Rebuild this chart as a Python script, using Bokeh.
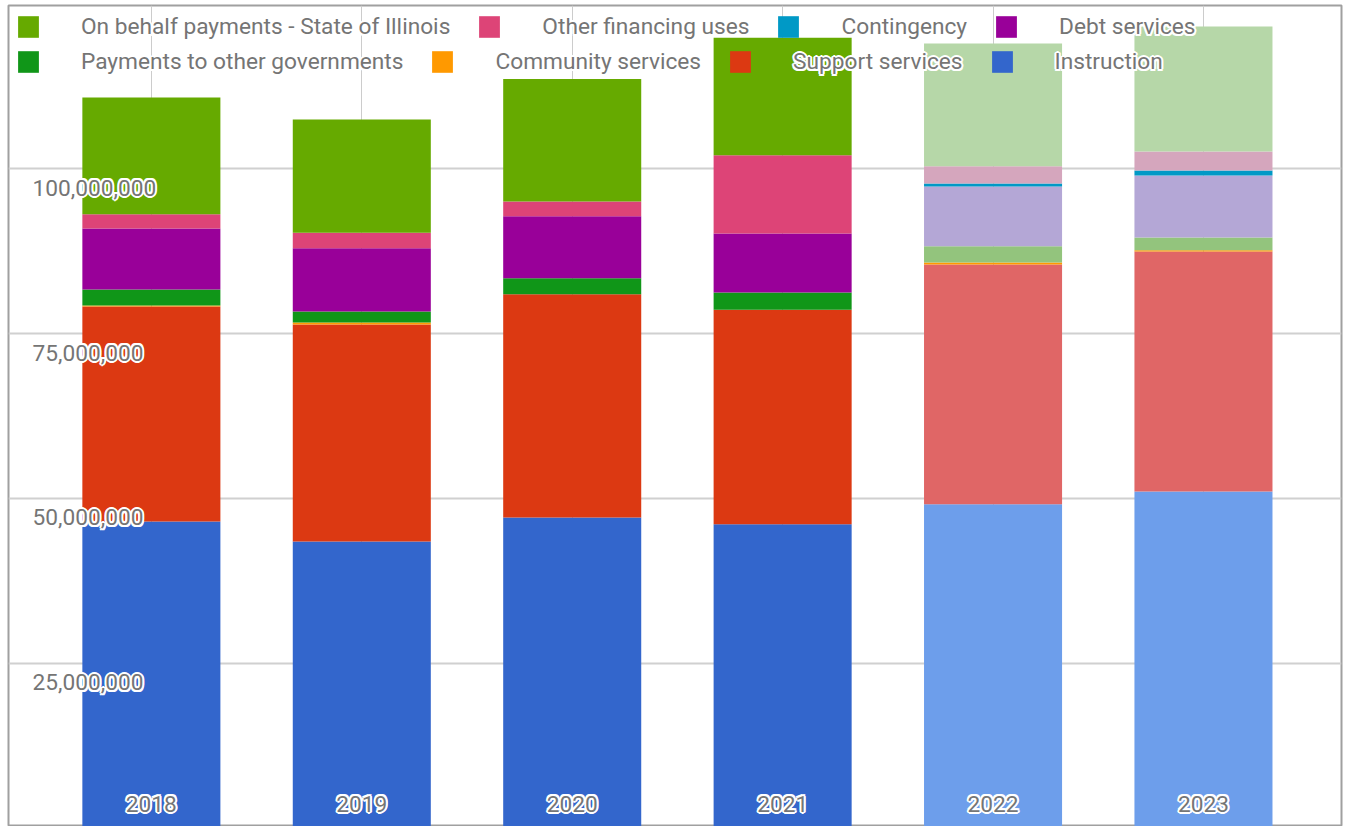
from bokeh.plotting import figure
from bokeh.models import (ColumnDataSource, Range1d, Grid, FixedTicker, LabelSet,
                          Legend, LegendItem)
from bokeh.core.properties import value
from bokeh.transform import stack
from bokeh.embed import file_html
from bokeh.resources import INLINE

# ---------------- data ----------------
years = ["2018", "2019", "2020", "2021", "2022", "2023"]
instruction = [46.52e6, 43.48e6, 47.12e6, 46.11e6, 49.14e6, 51.06e6]
support_services = [32.58e6, 32.88e6, 33.83e6, 32.48e6, 36.32e6, 36.36e6]
community_services = [0.15e6, 0.30e6, 0.0, 0.0, 0.30e6, 0.20e6]
payments_other_govts = [2.42e6, 1.67e6, 2.42e6, 2.62e6, 2.47e6, 1.92e6]
debt_services = [9.24e6, 9.59e6, 9.39e6, 8.94e6, 9.05e6, 9.39e6]
contingency = [0.0, 0.0, 0.0, 0.0, 0.45e6, 0.76e6]
other_financing_uses = [2.17e6, 2.33e6, 2.23e6, 11.86e6, 2.62e6, 2.88e6]
on_behalf_payments = [17.68e6, 17.17e6, 18.59e6, 17.79e6, 18.59e6, 18.94e6]

y_ticks = [25e6, 50e6, 75e6, 100e6]
y_tick_labels = ["25,000,000", "50,000,000", "75,000,000", "100,000,000"]

# year is budget (projected) -> lighter colours
projected = [False, False, False, False, True, True]

series = [
    ("instruction", "Instruction", instruction, "#3366cc", "#6d9eeb"),
    ("support", "Support services", support_services, "#dc3912", "#e06666"),
    ("community", "Community services", community_services, "#ff9900", "#ff9900"),
    ("paygov", "Payments to other governments", payments_other_govts, "#109618", "#93c47d"),
    ("debt", "Debt services", debt_services, "#990099", "#b4a7d6"),
    ("contingency", "Contingency", contingency, "#0099c6", "#0099c6"),
    ("otherfin", "Other financing uses", other_financing_uses, "#dd4477", "#d5a6bd"),
    ("onbehalf", "On behalf payments - State of Illinois", on_behalf_payments, "#66aa00", "#b6d7a8"),
]

xs = list(range(len(years)))
data = {"x": xs}
for key, label, vals, dark, light in series:
    data[key] = vals
    data["c_" + key] = [light if pr else dark for pr in projected]
source = ColumnDataSource(data)

TEXT_COLOR = "#757575"
FONT = "Roboto"
FSIZE = "22.7px"
HALO = [(-2, 0), (2, 0), (0, -2), (0, 2), (-1.5, -1.5), (1.5, -1.5), (-1.5, 1.5), (1.5, 1.5)]

p = figure(width=1346, height=826, output_backend="svg", toolbar_location=None,
           x_range=Range1d(-0.679, 5.656), y_range=Range1d(0.3e6, 124.7e6),
           x_axis_location=None, y_axis_location=None,
           min_border_left=8, min_border_right=5, min_border_top=5, min_border_bottom=0)
p.outline_line_color = "#a0a0a0"
p.outline_line_width = 2
p.background_fill_color = "white"
p.border_fill_color = "white"
p.grid.visible = False

p.add_layout(Grid(dimension=1, ticker=FixedTicker(ticks=y_ticks),
                  grid_line_color="#d0d0d0", grid_line_width=2))
p.add_layout(Grid(dimension=0, ticker=FixedTicker(ticks=xs),
                  grid_line_color="#cccccc", grid_line_width=1))

renderers = {}
keys_so_far = []
for key, label, vals, dark, light in series:
    r = p.vbar(x="x", width=0.656, bottom=stack(*keys_so_far), top=stack(*(keys_so_far + [key])),
               source=source, fill_color="c_" + key, line_color=None)
    renderers[key] = (r, label)
    keys_so_far.append(key)

# y tick labels and year labels drawn inside the plot (white halo first, then gray text)
ysrc = ColumnDataSource(dict(y=y_ticks, text=y_tick_labels))
xsrc = ColumnDataSource(dict(x=xs, text=years))
for dx, dy in HALO + [(0, 0)]:
    col = TEXT_COLOR if (dx, dy) == (0, 0) else "white"
    p.add_layout(LabelSet(x=24, x_units="screen", y="y", text="text", source=ysrc,
                          x_offset=dx, y_offset=-19 + dy, text_align="left", text_baseline="middle",
                          text_font=value(FONT), text_font_size=value(FSIZE), text_color=col))
    p.add_layout(LabelSet(x="x", y=23, y_units="screen", text="text", source=xsrc,
                          x_offset=dx, y_offset=dy, text_align="center", text_baseline="middle",
                          text_font=value(FONT), text_font_size=value(FSIZE), text_color=col))

# invisible renderer (one point, zero height) used for halo legends
ghost_src = ColumnDataSource(dict(x=[xs[0]], top=[0.0]))
ghost = p.vbar(x="x", top="top", width=0.01, source=ghost_src, fill_alpha=0, line_alpha=0)

row1 = ["onbehalf", "otherfin", "contingency", "debt"]
row2 = ["paygov", "community", "support", "instruction"]

def make_legend(keys, loc, halo=False):
    items = [LegendItem(label=renderers[k][1], renderers=[ghost if halo else renderers[k][0]], index=0)
             for k in keys]
    return Legend(items=items, location=loc, orientation="horizontal",
                  background_fill_alpha=0, border_line_alpha=0,
                  padding=7, margin=0, spacing=26, label_standoff=40,
                  glyph_width=26, glyph_height=27,
                  label_text_font=FONT, label_text_font_size=FSIZE,
                  label_text_color="white" if halo else TEXT_COLOR)

for keys, (lx, ly) in [(row1, (0, 779)), (row2, (0, 744))]:
    for dx, dy in HALO:
        p.add_layout(make_legend(keys, (lx + dx, ly + dy), halo=True), "center")
    p.add_layout(make_legend(keys, (lx, ly)), "center")

open("out.html", "w").write(file_html(p, INLINE))
